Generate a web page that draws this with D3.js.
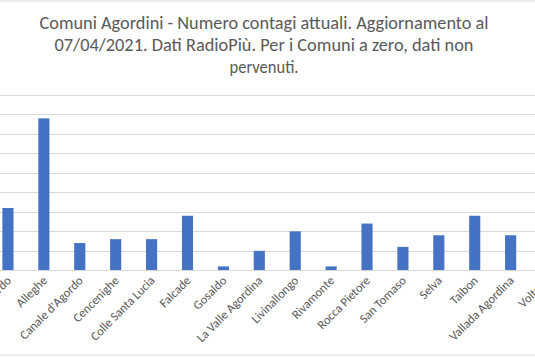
<!DOCTYPE html>
<html>
<head>
<meta charset="utf-8">
<script src="https://cdn.jsdelivr.net/npm/d3@7"></script>
<style>
html,body{margin:0;padding:0;background:#fff;overflow:hidden;}
svg{display:block;}
</style>
</head>
<body>
<svg id="chart" width="535" height="357"></svg>
<script>
const titleLines = [
  "Comuni Agordini - Numero contagi attuali. Aggiornamento al",
  "07/04/2021. Dati RadioPiù. Per i Comuni a zero, dati non",
  "pervenuti."
];
const categories = ["Agordo","Alleghe","Canale d'Agordo","Cencenighe","Colle Santa Lucia","Falcade","Gosaldo","La Valle Agordina","Livinallongo","Rivamonte","Rocca Pietore","San Tomaso","Selva","Taibon","Vallada Agordina","Voltago"];
const values = [16,39,7,8,8,14,1,5,10,1,12,6,9,14,9,6];
const yTicks = [0,5,10,15,20,25,30,35,40,45];

const svg = d3.select("#chart");
const W = 535, H = 357;

// chart area borders (cropped Excel chart frame)
svg.append("line").attr("x1",0).attr("x2",W).attr("y1",1).attr("y2",1)
  .attr("stroke","#d9d9d9").attr("stroke-width",1);
svg.append("line").attr("x1",0).attr("x2",W).attr("y1",355).attr("y2",355)
  .attr("stroke","#d9d9d9").attr("stroke-width",1);

// title
const title = svg.append("g").attr("font-family","Carlito, Calibri, 'Open Sans', sans-serif")
  .attr("fill","#595959").attr("font-size",18.5).attr("text-anchor","middle");
const titleW = [449, 419, 69];
titleLines.forEach((t,i)=>{
  title.append("text").attr("x",264).attr("y",29+i*22).text(t)
    .attr("textLength",titleW[i]).attr("lengthAdjust","spacingAndGlyphs");
});

const x = d3.scaleBand().domain(categories).range([-10,564.5]).paddingInner(0.69).paddingOuter(0.345);
const y = d3.scaleLinear().domain([0,45]).range([270.3,95]);

// gridlines
svg.append("g").selectAll("line").data(yTicks.slice(1)).join("line")
  .attr("x1",0).attr("x2",W)
  .attr("y1",d=>Math.round(y(d))+0.5).attr("y2",d=>Math.round(y(d))+0.5)
  .attr("stroke","#d9d9d9").attr("stroke-width",1);

// bars
svg.append("g").selectAll("rect").data(values).join("rect")
  .attr("x",(d,i)=>x(categories[i]))
  .attr("width",x.bandwidth())
  .attr("y",d=>y(d))
  .attr("height",d=>y(0)-y(d))
  .attr("fill","#4472C4");

// baseline
svg.append("line").attr("x1",0).attr("x2",W)
  .attr("y1",Math.round(y(0))+0.5).attr("y2",Math.round(y(0))+0.5)
  .attr("stroke","#d9d9d9").attr("stroke-width",1);

// x axis labels
const xAxis = d3.axisBottom(x).tickSize(0).tickPadding(0);
const gx = svg.append("g").attr("transform",`translate(0,${y(0)})`).call(xAxis);
gx.select(".domain").remove();
gx.selectAll("text")
  .attr("font-family","Carlito, Calibri, 'Open Sans', sans-serif")
  .attr("font-size",12.5)
  .attr("fill","#595959")
  .attr("text-anchor","end")
  .attr("dy",null)
  .attr("y",0)
  .attr("x",0)
  .attr("transform","translate(4,11) rotate(-45)");
</script>
</body>
</html>
